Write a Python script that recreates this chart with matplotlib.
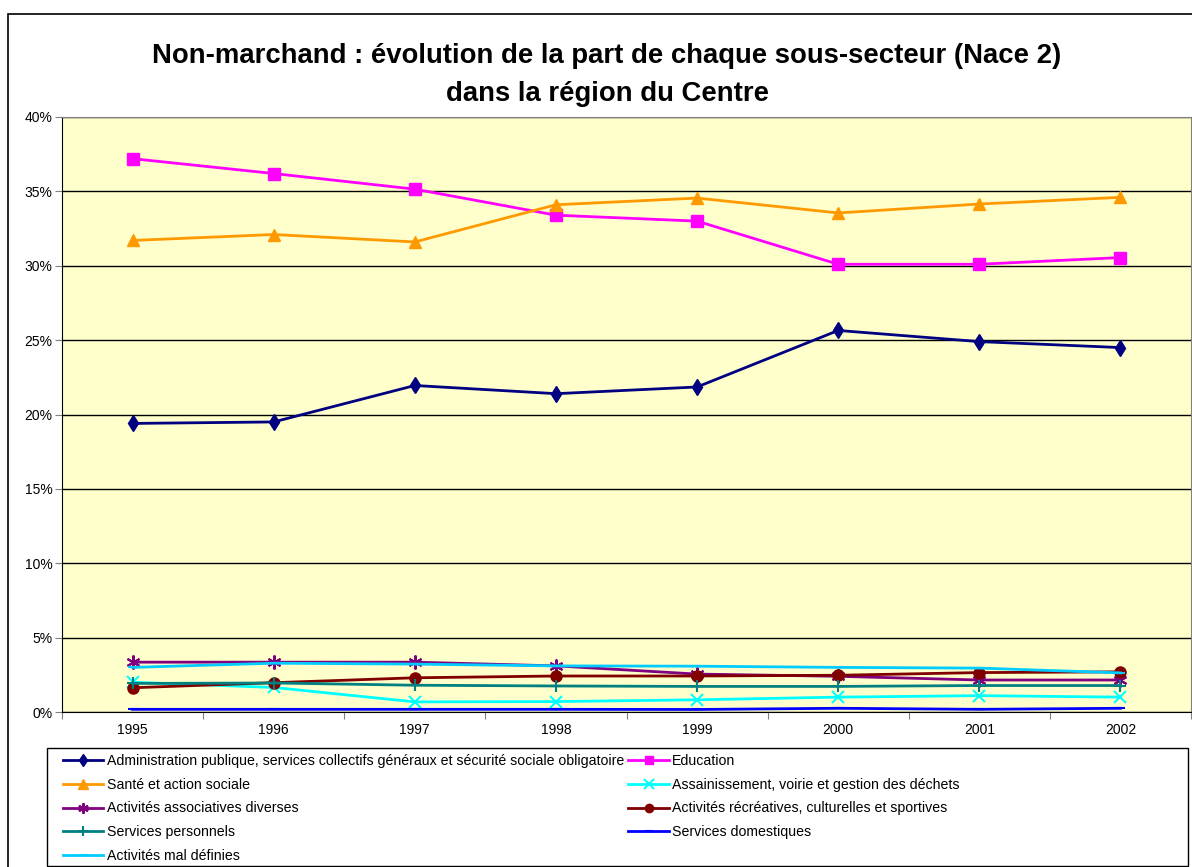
import numpy as np
import matplotlib
matplotlib.use("Agg")
import matplotlib.pyplot as plt
from matplotlib.patches import Rectangle
from matplotlib.ticker import FixedLocator, PercentFormatter

plt.rcParams['font.family'] = ['Liberation Sans', 'DejaVu Sans']

# Données (part en %)
annees = ['1995', '1996', '1997', '1998', '1999', '2000', '2001', '2002']

admin = [19.4, 19.5, 21.95, 21.4, 21.85, 25.65, 24.9, 24.5]
education = [37.2, 36.2, 35.15, 33.4, 33.0, 30.1, 30.1, 30.55]
sante = [31.7, 32.1, 31.6, 34.1, 34.55, 33.55, 34.15, 34.6]
assainissement = [2.0, 1.65, 0.68, 0.7, 0.82, 1.0, 1.1, 1.0]
associatives = [3.35, 3.35, 3.35, 3.1, 2.55, 2.4, 2.15, 2.15]
recreatives = [1.63, 1.97, 2.3, 2.42, 2.42, 2.47, 2.65, 2.7]
personnels = [1.92, 1.95, 1.8, 1.75, 1.72, 1.72, 1.78, 1.78]
domestiques = [0.18, 0.18, 0.18, 0.18, 0.17, 0.25, 0.18, 0.25]
mal_definies = [3.0, 3.28, 3.22, 3.1, 3.08, 3.0, 2.95, 2.63]

series = [
    ("Administration publique, services collectifs généraux et sécurité sociale obligatoire", admin, '#000080', 'd', 8),
    ("Education", education, '#FF00FF', 's', 8),
    ("Santé et action sociale", sante, '#FF9900', '^', 9),
    ("Assainissement, voirie et gestion des déchets", assainissement, '#00FFFF', 'x', 9),
    ("Activités associatives diverses", associatives, '#800080', (6, 2, 0), 10),
    ("Activités récréatives, culturelles et sportives", recreatives, '#800000', 'o', 8),
    ("Services personnels", personnels, '#008080', '+', 9),
    ("Services domestiques", domestiques, '#0000FF', '_', 7),
    ("Activités mal définies", mal_definies, '#00CCFF', '_', 7),
]

fig = plt.figure(figsize=(11.92, 8.67), dpi=100)
ax = fig.add_axes([62 / 1192, 1 - 712 / 867, (1191 - 62) / 1192, (712 - 117) / 867])
ax.set_facecolor('#FFFFCC')

x = np.arange(len(annees))
lines = {}
for nom, vals, col, mk, ms in series:
    mew = 1.5 if mk in ('x', '+', '_') or isinstance(mk, tuple) else 1
    ln, = ax.plot(x, vals, color=col, lw=2, marker=mk, markersize=ms,
                  markeredgewidth=mew, markerfacecolor=col, markeredgecolor=col,
                  label=nom)
    lines[nom] = ln

ax.set_xlim(-0.5, len(annees) - 0.5)
ax.set_ylim(0, 40)
ax.yaxis.set_major_locator(FixedLocator(np.arange(0, 41, 5)))
ax.yaxis.set_major_formatter(PercentFormatter(decimals=0))
ax.grid(axis='y', color='black', lw=1)
ax.set_axisbelow(True)

ax.set_xticks(np.arange(-0.5, len(annees)), labels=[''] * (len(annees) + 1))
ax.set_xticks(x, labels=annees, minor=True)
ax.tick_params(axis='x', which='major', length=5, color='#808080', direction='out')
ax.tick_params(axis='x', which='minor', length=0, pad=8, labelsize=10)
ax.tick_params(axis='y', length=5, color='#808080', labelsize=10, pad=2)

for s in ('top', 'right'):
    ax.spines[s].set_color('#808080')
for s in ('left', 'bottom'):
    ax.spines[s].set_color('black')

fig.text(607 / 1192, 1 - 56 / 867, "Non-marchand : évolution de la part de chaque sous-secteur (Nace 2)",
         ha='center', va='center', fontsize=19.8, fontweight='bold')
fig.text(607 / 1192, 1 - 94 / 867, "dans la région du Centre",
         ha='center', va='center', fontsize=19.8, fontweight='bold')

# légende rangée par lignes (ordre d'Excel)
ordre = [0, 2, 4, 6, 8, 1, 3, 5, 7]
handles = [lines[series[i][0]] for i in ordre]
labels = [series[i][0] for i in ordre]
fig.legend(handles, labels, ncol=2, loc='upper left',
           bbox_to_anchor=(52 / 1192, 1 - 743 / 867), frameon=False,
           fontsize=10.15, handlelength=2.85, handletextpad=0.25, markerscale=0.75,
           columnspacing=0.3, labelspacing=0.68, borderpad=0.3)
fig.patches.append(Rectangle((47 / 1192, 1 - 866 / 867), (1188 - 47) / 1192, (866 - 748) / 867,
                             transform=fig.transFigure, fill=False, ec='black', lw=1))
fig.patches.append(Rectangle((8 / 1192, -0.05), 1.1, 1 - 14 / 867 + 0.05,
                             transform=fig.transFigure, fill=False, ec='black', lw=1.2))

fig.savefig('out.png', dpi=100)
